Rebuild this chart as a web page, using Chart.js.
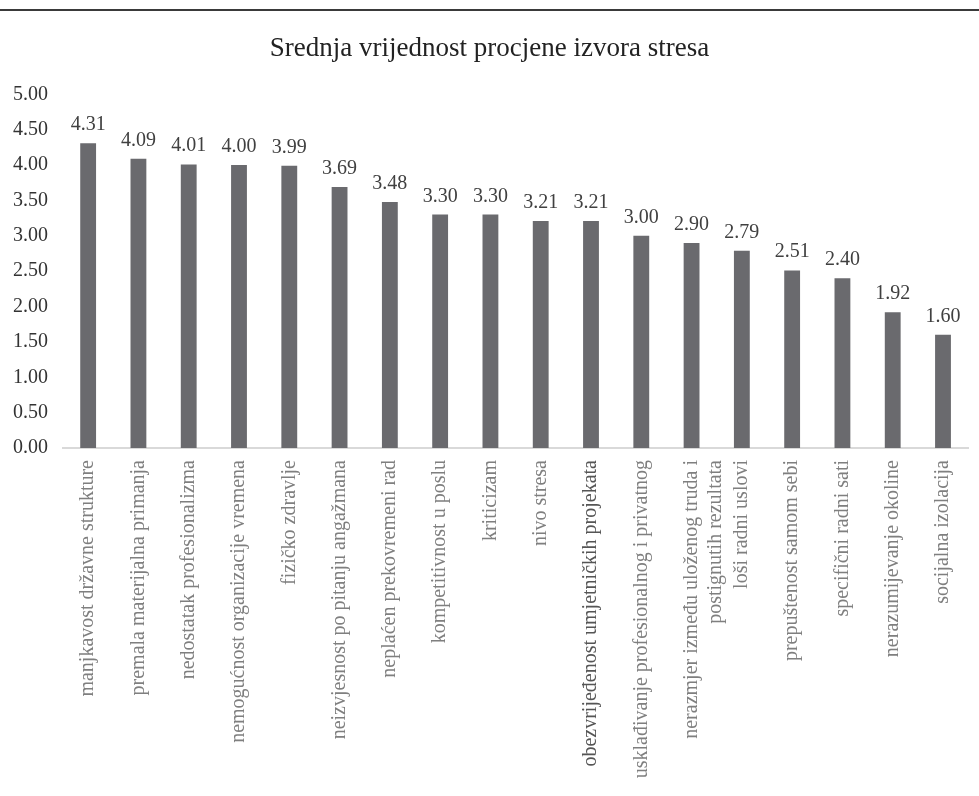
<!DOCTYPE html>
<html>
<head>
<meta charset="utf-8">
<script src="https://cdn.jsdelivr.net/npm/chart.js@4"></script>
<style>
  html, body { margin: 0; padding: 0; background: #fff; font-family: "Liberation Serif", serif; }
  #wrap { position: relative; width: 979px; height: 796px; }
  #topline { position: absolute; left: 0; top: 9px; width: 979px; height: 2px; background: #3a3a3a; }
  canvas { position: absolute; left: 0; top: 0; }
  #warm { position: absolute; left: -9999px; top: 0; font-family: "Liberation Serif"; font-size: 20px; }
</style>
</head>
<body>
<div id="warm">Srednja vrijednost 0123456789</div>
<div id="wrap">
  <canvas id="c" width="979" height="796"></canvas>
  <div id="topline"></div>
</div>
<script>
const chartTitle = "Srednja vrijednost procjene izvora stresa";
const categories = [
  "manjkavost državne strukture",
  "premala materijalna primanja",
  "nedostatak profesionalizma",
  "nemogućnost organizacije vremena",
  "fizičko zdravlje",
  "neizvjesnost po pitanju angažmana",
  "neplaćen prekovremeni rad",
  "kompetitivnost u poslu",
  "kriticizam",
  "nivo stresa",
  "obezvrijeđenost umjetničkih projekata",
  "usklađivanje profesionalnog i privatnog",
  ["nerazmjer između uloženog truda i", "postignutih rezultata"],
  "loši radni uslovi",
  "prepuštenost samom sebi",
  "specifični radni sati",
  "nerazumijevanje okoline",
  "socijalna izolacija"
];
const values = [4.31, 4.09, 4.01, 4.00, 3.99, 3.69, 3.48, 3.30, 3.30, 3.21, 3.21, 3.00, 2.90, 2.79, 2.51, 2.40, 1.92, 1.60];
const highlightedIndex = 10;

const FONT = '"Liberation Serif", serif';

const valueLabels = {
  id: 'valueLabels',
  afterDatasetsDraw(chart) {
    const ctx = chart.ctx;
    const meta = chart.getDatasetMeta(0);
    ctx.save();
    ctx.font = '20px "Liberation Serif", serif';
    ctx.fillStyle = "#404040";
    ctx.textAlign = "center";
    ctx.textBaseline = "alphabetic";
    meta.data.forEach((bar, i) => {
      ctx.fillText(values[i].toFixed(2), bar.x, bar.y - 13);
    });
    ctx.restore();
  }
};

function draw() {
  new Chart(document.getElementById('c'), {
    type: 'bar',
    data: {
      labels: categories,
      datasets: [{
        data: values,
        backgroundColor: '#6a6a6e',
        barPercentage: 0.63,
        categoryPercentage: 0.5
      }]
    },
    options: {
      responsive: false,
      animation: false,
      layout: { padding: { top: 23, right: 0, left: 0, bottom: 0 } },
      plugins: {
        legend: { display: false },
        tooltip: { enabled: false },
        title: {
          display: true,
          text: chartTitle,
          color: '#222',
          font: { family: FONT, size: 27, weight: 'normal' },
          padding: { top: 10, bottom: 29 }
        }
      },
      scales: {
        x: {
          grid: { display: false, drawTicks: false },
          border: { display: true, color: '#d9d9d9', width: 2 },
          ticks: {
            autoSkip: false,
            maxRotation: 90,
            minRotation: 90,
            padding: 12,
            color: (c) => c.index === highlightedIndex ? '#555' : '#7f7f7f',
            font: { family: FONT, size: 20 }
          },
          afterFit(scale) { scale.height = 348; }
        },
        y: {
          min: 0,
          max: 5,
          grid: { display: false, drawTicks: false },
          border: { display: false },
          ticks: {
            stepSize: 0.5,
            padding: 15,
            color: '#333',
            font: { family: FONT, size: 20 },
            callback: (v) => Number(v).toFixed(2)
          },
          afterFit(scale) { scale.width = 63; }
        }
      }
    },
    plugins: [valueLabels]
  });
}

let drawn = false;
function once() { if (!drawn) { drawn = true; draw(); } }
if (document.fonts && document.fonts.load) {
  Promise.race([
    document.fonts.load('20px "Liberation Serif"'),
    new Promise(r => setTimeout(r, 300))
  ]).then(once, once);
} else {
  once();
}
</script>
</body>
</html>
